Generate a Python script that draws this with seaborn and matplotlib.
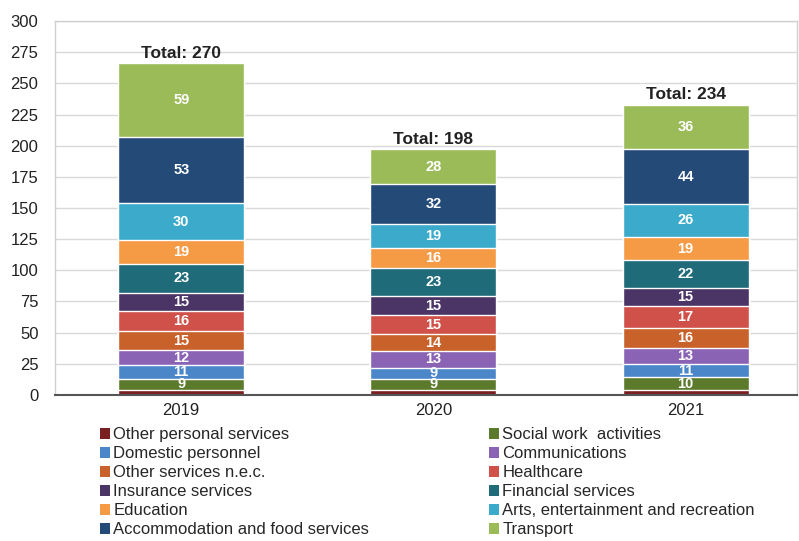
import seaborn as sns
import matplotlib.pyplot as plt
import numpy as np
import pandas as pd
from matplotlib.patches import Patch

# Data (bottom to top of the stack)
years = ['2019', '2020', '2021']
sectors = ['Other personal services', 'Social work  activities', 'Domestic personnel',
           'Communications', 'Other services n.e.c.', 'Healthcare', 'Insurance services',
           'Financial services', 'Education', 'Arts, entertainment and recreation',
           'Accommodation and food services', 'Transport']
other_personal = [4, 4, 4]
social_work = [9, 9, 10]
domestic = [11, 9, 11]
communications = [12, 13, 13]
other_services = [15, 14, 16]
healthcare = [16, 15, 17]
insurance = [15, 15, 15]
financial = [23, 23, 22]
education = [19, 16, 19]
arts = [30, 19, 26]
accommodation = [53, 32, 44]
transport = [59, 28, 36]
totals = [270, 198, 234]

colors = ['#7a1f22', '#5b7a2b', '#4a86c8', '#8a63b5', '#c8612a', '#d0504a',
          '#4b3466', '#1f6b7a', '#f59a45', '#3baacb', '#244b78', '#9bbb59']


def main():
    values = [other_personal, social_work, domestic, communications, other_services,
              healthcare, insurance, financial, education, arts, accommodation, transport]
    df = pd.DataFrame(values, index=sectors, columns=years)
    cum = df.cumsum()

    sns.set_theme(style='white')
    plt.rcParams['font.family'] = ['Liberation Sans', 'DejaVu Sans']

    fig = plt.figure(figsize=(7.99, 5.41), dpi=100)
    ax = fig.add_axes([0.069, 0.270, 0.928, 0.691])

    # draw cumulative bars from top layer down so lower layers cover them
    for i in range(len(sectors) - 1, -1, -1):
        sns.barplot(x=years, y=cum.iloc[i].values, color=colors[i], width=0.5,
                    saturation=1, ax=ax, zorder=2)

    # segment labels
    for j, yr in enumerate(years):
        for i, s in enumerate(sectors):
            if i == 0:
                continue
            v = df.loc[s, yr]
            mid = cum.iloc[i][yr] - v / 2
            ax.text(j, mid, str(v), ha='center', va='center', color='white',
                    fontsize=10.5, fontweight='bold', zorder=5)
        ax.text(j, cum.iloc[-1][yr] + 2, f'Total: {totals[j]}', ha='center', va='bottom',
                color='#222222', fontsize=12.5, fontweight='bold', zorder=5)

    ax.set_ylim(0, 300)
    ax.set_xlim(-0.5, 2.44)
    ax.set_yticks(np.arange(0, 301, 25))
    ax.yaxis.grid(True, color='#d9d9d9', linewidth=1, zorder=0)
    ax.set_axisbelow(True)
    ax.tick_params(axis='both', length=0, labelsize=12, colors='#222222')
    ax.tick_params(axis='y', pad=12)
    ax.tick_params(axis='x', pad=6)
    ax.set_xlabel('')
    ax.set_ylabel('')
    for side in ['top', 'left', 'right']:
        ax.spines[side].set_color('#d0d0d0')
        ax.spines[side].set_linewidth(1)
    ax.spines['bottom'].set_color('#555555')
    ax.spines['bottom'].set_linewidth(1.5)

    # legend: row-major order in two columns
    order = [0, 2, 4, 6, 8, 10, 1, 3, 5, 7, 9, 11]
    handles = [Patch(facecolor=colors[k], edgecolor='none') for k in order]
    labels = [sectors[k] for k in order]
    fig.legend(handles, labels, ncol=2, loc='upper left', bbox_to_anchor=(0.125, 0.210),
               frameon=False, fontsize=12, handlelength=0.6, handleheight=0.6,
               handletextpad=0.2, labelspacing=0.24, columnspacing=7.2,
               borderaxespad=0, borderpad=0)

    fig.savefig('out.png', dpi=100)


if __name__ == "__main__":
    main()
